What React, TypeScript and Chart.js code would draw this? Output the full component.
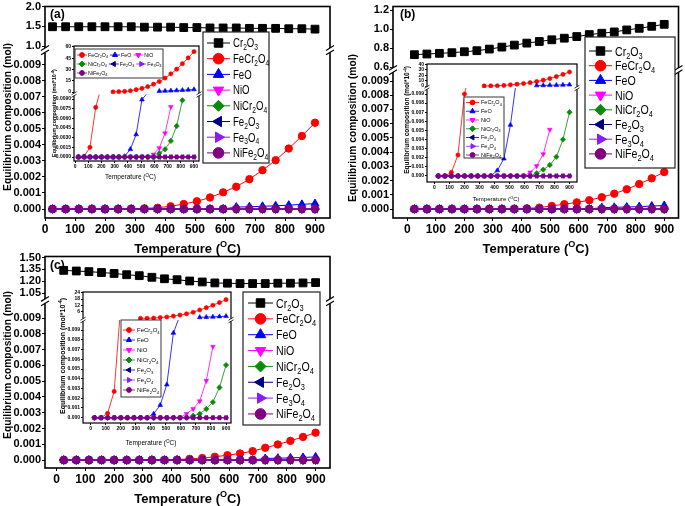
import React, { useEffect, useRef } from "react";
import { Chart, registerables, PointElement } from "chart.js";

Chart.register(...registerables);

const FONT = "'Liberation Sans', Arial, Helvetica, sans-serif";

// ---------------- data ----------------
const temperatures = [25, 68.75, 112.5, 156.25, 200, 243.75, 287.5, 331.25, 375, 418.75, 462.5, 506.25, 550, 593.75, 637.5, 681.25, 725, 768.75, 812.5, 856.25, 900];

const seriesNames = ["Cr_{2}O_{3}", "FeCr_{2}O_{4}", "FeO", "NiO", "NiCr_{2}O_{4}", "Fe_{2}O_{3}", "Fe_{3}O_{4}", "NiFe_{2}O_{4}"];
const seriesLabels = ["Cr₂O₃", "FeCr₂O₄", "FeO", "NiO", "NiCr₂O₄", "Fe₂O₃", "Fe₃O₄", "NiFe₂O₄"];
const seriesColors = ["#000000", "#ff0000", "#0000ff", "#ff00ff", "#0a8a0a", "#000080", "#8c1aff", "#800080"];
const seriesMarkers = [
  { ps: "rect", rot: 0 }, { ps: "circle", rot: 0 }, { ps: "triangle", rot: 0 }, { ps: "triangle", rot: 180 },
  { ps: "rectRot", rot: 0 }, { ps: "triangle", rot: 270 }, { ps: "triangle", rot: 90 }, { ps: "circle", rot: 0 },
];

// series that stay at zero over the whole range
const zeroSeries = [0, 0, 0, 0, 0, 0, 0, 0, 0, 0, 0, 0, 0, 0, 0, 0, 0, 0, 0, 0, 0];

// panel (a) main
const aCr2O3 = [1.49, 1.49, 1.49, 1.49, 1.49, 1.49, 1.49, 1.48, 1.48, 1.48, 1.47, 1.47, 1.46, 1.46, 1.46, 1.45, 1.45, 1.45, 1.44, 1.44, 1.43];
const aFeCr2O4 = [0, 0, 0, 0, 0, 0, 0.00002, 0.00004, 0.00008, 0.00017, 0.00031, 0.00048, 0.00072, 0.00104, 0.00139, 0.00186, 0.00242, 0.00304, 0.00377, 0.00455, 0.00538];
const aFeO = [0, 0, 0, 0, 0, 0, 0, 0, 0, 0, 0, 0, 0, 0, 0.00012, 0.00014, 0.00017, 0.0002, 0.00024, 0.00029, 0.00034];
// panel (b) main
const bCr2O3 = [0.732, 0.739, 0.746, 0.753, 0.763, 0.774, 0.791, 0.812, 0.833, 0.854, 0.871, 0.889, 0.906, 0.923, 0.944, 0.958, 0.972, 0.993, 1.01, 1.031, 1.052];
const bFeCr2O4 = [0, 0, 0, 0, 0, 0, 0, 0.00001, 0.00002, 0.00005, 0.0001, 0.00022, 0.00034, 0.00047, 0.00062, 0.00083, 0.00108, 0.00139, 0.00176, 0.00216, 0.0026];
const bFeO = [0, 0, 0, 0, 0, 0, 0, 0, 0, 0, 0, 0, 0, 0, 0, 0.0001, 0.00012, 0.00014, 0.00017, 0.00021, 0.00025];
// panel (c) main
const cCr2O3 = [1.338, 1.33, 1.322, 1.311, 1.299, 1.283, 1.271, 1.251, 1.232, 1.22, 1.204, 1.192, 1.18, 1.176, 1.172, 1.172, 1.172, 1.176, 1.176, 1.18, 1.184];
const cFeCr2O4 = [0, 0, 0, 0, 0, 0, 0, 0.000005, 0.00001, 0.00003, 0.00008, 0.00013, 0.00021, 0.00031, 0.00042, 0.00057, 0.00078, 0.00099, 0.00122, 0.00147, 0.00174];
const cFeO = [0, 0, 0, 0, 0, 0, 0, 0, 0, 0, 0, 0, 0, 0, 0, 0, 0.0001, 0.00012, 0.00014, 0.00017, 0.0002];

// inset (a) — units mol*10^-4
const iaFeCr2O4 = [0, 0.0001, 0.0015, 0.0077, 0.011, null, null, null, null, null, null, null, null, null, null, null, null, null, null, null, null];
const iaFeO = [0, 0, 0, 0, 0, 0, 0, 0, 0.0001, 0.0012, 0.0035, 0.0089, 0.01, null, null, null, null, null, null, null, null];
const iaNiO = [0, 0, 0, 0, 0, 0, 0, 0, 0, 0, 0, 0, 0, 0.0004, 0.0014, 0.0037, 0.0078, null, null, null, null];
const iaNiCr2O4 = [0, 0, 0, 0, 0, 0, 0, 0, 0, 0, 0, 0, 0, 0, 0.0006, 0.0012, 0.0025, 0.0048, 0.0088, null, null];
const iaFeCr2O4Hi = [null, null, null, null, null, null, 0.2, 0.4, 0.8, 1.7, 3.1, 4.8, 7.2, 10.4, 13.9, 18.6, 24.2, 30.4, 37.7, 45.5, 53.8];
const iaFeOHi = [null, null, null, null, null, null, null, null, null, null, null, null, null, null, 1.2, 1.4, 1.7, 2.0, 2.4, 2.9, 3.4];
// inset (b)
const ibFeCr2O4 = [0, 0, 0.0004, 0.0023, 0.009, 0.012, null, null, null, null, null, null, null, null, null, null, null, null, null, null, null];
const ibFeO = [0, 0, 0, 0, 0, 0, 0, 0, 0, 0.0006, 0.0019, 0.0056, 0.011, null, null, null, null, null, null, null, null];
const ibNiO = [0, 0, 0, 0, 0, 0, 0, 0, 0, 0, 0, 0, 0, 0, 0.0004, 0.0011, 0.0024, 0.0051, null, null, null];
const ibNiCr2O4 = [0, 0, 0, 0, 0, 0, 0, 0, 0, 0, 0, 0, 0, 0, 0, 0.0003, 0.0007, 0.0012, 0.0021, 0.004, 0.007];
const ibFeCr2O4Hi = [null, null, null, null, null, null, null, 0.1, 0.2, 0.5, 1.0, 2.2, 3.4, 4.7, 6.2, 8.3, 10.8, 13.9, 17.6, 21.6, 26.0];
const ibFeOHi = [null, null, null, null, null, null, null, null, null, null, null, null, null, null, null, 1.0, 1.2, 1.4, 1.7, 2.1, 2.5];
// inset (c)
const icFeCr2O4 = [0, 0, 0.00045, 0.0027, 0.0115, null, null, null, null, null, null, null, null, null, null, null, null, null, null, null, null];
const icFeO = [0, 0, 0, 0, 0, 0, 0, 0, 0, 0.0004, 0.0013, 0.0034, 0.0087, 0.0105, null, null, null, null, null, null, null];
const icNiO = [0, 0, 0, 0, 0, 0, 0, 0, 0, 0, 0, 0, 0, 0, 0.0004, 0.0009, 0.0017, 0.0038, 0.0073, null, null];
const icNiCr2O4 = [0, 0, 0, 0, 0, 0, 0, 0, 0, 0, 0, 0, 0, 0, 0, 0.0002, 0.0004, 0.0009, 0.0016, 0.0031, 0.0054];
const icFeCr2O4Hi = [null, null, null, null, null, null, null, 0.05, 0.1, 0.3, 0.8, 1.3, 2.1, 3.1, 4.2, 5.7, 7.8, 9.9, 12.2, 14.7, 17.4];
const icFeOHi = [null, null, null, null, null, null, null, null, null, null, null, null, null, null, null, null, 1.0, 1.2, 1.4, 1.7, 2.0];

// tick values and labels
const xTicks = [0, 100, 200, 300, 400, 500, 600, 700, 800, 900];
const xTickLabels = ["0", "100", "200", "300", "400", "500", "600", "700", "800", "900"];
const loTicks = [0, 0.001, 0.002, 0.003, 0.004, 0.005, 0.006, 0.007, 0.008, 0.009];
const loTickLabels = ["0.000", "0.001", "0.002", "0.003", "0.004", "0.005", "0.006", "0.007", "0.008", "0.009"];
const aHiTicks = [1.0, 1.5, 2.0];
const aHiLabels = ["1.0", "1.5", "2.0"];
const bHiTicks = [0.6, 0.8, 1.0, 1.2];
const bHiLabels = ["0.6", "0.8", "1.0", "1.2"];
const cHiTicks = [1.05, 1.2, 1.35, 1.5];
const cHiLabels = ["1.05", "1.20", "1.35", "1.50"];
const iaLoTicks = [0, 0.0015, 0.003, 0.0045, 0.006, 0.0075, 0.009];
const iaLoLabels = ["0.0000", "0.0015", "0.0030", "0.0045", "0.0060", "0.0075", "0.0090"];
const iaHiTicks = [0, 15, 30, 45, 60];
const iaHiLabels = ["0", "15", "30", "45", "60"];
const ibHiTicks = [0, 10, 20, 30, 40];
const ibHiLabels = ["0", "10", "20", "30", "40"];
const icHiTicks = [6, 12, 18, 24];
const icHiLabels = ["6", "12", "18", "24"];

const mainYTitle = "Equilibrium composition (mol)";
const insetYTitle = "Equilibrium composition (mol*10^{-4})";
const xTitleText = "Temperature (^{O}C)";

// ---------------- drawing helpers ----------------
function drawRich(ctx: CanvasRenderingContext2D, str: string, x: number, y: number, o: any) {
  const parts: { t: string; m: number }[] = [];
  const re = /(_\{[^}]*\}|\^\{[^}]*\})/g;
  let last = 0;
  let mt: RegExpExecArray | null;
  while ((mt = re.exec(str))) {
    if (mt.index > last) parts.push({ t: str.slice(last, mt.index), m: 0 });
    const tok = mt[0];
    parts.push({ t: tok.slice(2, -1), m: tok[0] === "_" ? 1 : 2 });
    last = mt.index + tok.length;
  }
  if (last < str.length) parts.push({ t: str.slice(last), m: 0 });
  const weight = o.weight || "normal";
  const fontFor = (m: number) => `${weight} ${m ? o.size * 0.7 : o.size}px ${FONT}`;
  let total = 0;
  const widths = parts.map((p) => {
    ctx.font = fontFor(p.m);
    const w = ctx.measureText(p.t).width;
    total += w;
    return w;
  });
  ctx.save();
  ctx.translate(x, y);
  if (o.rot) ctx.rotate(o.rot);
  ctx.scale(o.sx || 1, 1);
  let cx = o.align === "center" ? -total / 2 : o.align === "right" ? -total : 0;
  const base = o.size * 0.36;
  ctx.fillStyle = o.color || "#000";
  ctx.textBaseline = "alphabetic";
  ctx.textAlign = "left";
  parts.forEach((p, i) => {
    ctx.font = fontFor(p.m);
    const dy = p.m === 1 ? o.size * 0.24 : p.m === 2 ? -o.size * 0.4 : 0;
    ctx.fillText(p.t, cx, base + dy);
    cx += widths[i];
  });
  ctx.restore();
}

const BIG_AREA = { left: -1e5, top: -1e5, right: 1e5, bottom: 1e5 };

function drawMarker(ctx: CanvasRenderingContext2D, k: number, x: number, y: number, rmap: any) {
  const st = seriesMarkers[k];
  const pe: any = new (PointElement as any)({
    x,
    y,
    skip: false,
    options: {
      pointStyle: st.ps,
      rotation: st.rot,
      radius: rmap[st.ps],
      borderWidth: 1,
      borderColor: seriesColors[k],
      backgroundColor: seriesColors[k],
    },
  });
  pe.draw(ctx, BIG_AREA);
}

function drawLegend(ctx: CanvasRenderingContext2D, L: any, ox: number, oy: number) {
  const b = L.box;
  ctx.save();
  ctx.fillStyle = "#fff";
  ctx.fillRect(b.l - ox, b.t - oy, b.r - b.l, b.b - b.t);
  ctx.strokeStyle = "#222";
  ctx.lineWidth = L.borderW;
  ctx.strokeRect(b.l - ox, b.t - oy, b.r - b.l, b.b - b.t);
  const item = (k: number, x0: number, x1: number, tx: number, y: number) => {
    ctx.strokeStyle = seriesColors[k];
    ctx.lineWidth = L.lineW;
    ctx.beginPath();
    ctx.moveTo(x0 - ox, y - oy);
    ctx.lineTo(x1 - ox, y - oy);
    ctx.stroke();
    drawMarker(ctx, k, (x0 + x1) / 2 - ox, y - oy, L.mR);
    drawRich(ctx, seriesNames[k], tx - ox, y - oy, { size: L.size, sx: L.sx, align: "left" });
  };
  if (L.kind === "col") {
    L.items.forEach((k: number, i: number) => {
      const y = L.y0 + i * L.dy;
      item(k, L.x0, L.x1, L.tx, y);
    });
  } else {
    L.rows.forEach((row: number[], ri: number) => {
      const y = L.y0 + ri * L.dy;
      let x = L.x0;
      row.forEach((k) => {
        item(k, x, x + L.lineLen, x + L.lineLen + L.textGap, y);
        ctx.save();
        ctx.font = `normal ${L.size}px ${FONT}`;
        const plain = seriesNames[k].replace(/_\{([^}]*)\}/g, "$1");
        const subs = (seriesNames[k].match(/_\{/g) || []).length;
        const w = ctx.measureText(plain).width - subs * ctx.measureText("0").width * 0.3;
        ctx.restore();
        x += L.lineLen + L.textGap + w * (L.sx || 1) + L.itemGap;
      });
    });
  }
  ctx.restore();
}

function decorPlugin(s: any) {
  const ox = s.canvas.x;
  const oy = s.canvas.y;
  return {
    id: "decor",
    beforeDraw(chart: any) {
      if (s.fill) {
        const a = chart.chartArea;
        chart.ctx.save();
        chart.ctx.fillStyle = "#fff";
        chart.ctx.fillRect(a.left, a.top, a.right - a.left, a.bottom - a.top);
        chart.ctx.restore();
      }
    },
    beforeDatasetDraw(chart: any, args: any) {
      const ctx = chart.ctx;
      const a = chart.chartArea;
      const ys = chart.scales[args.meta.yAxisID];
      ctx.save();
      ctx.beginPath();
      if (args.meta.yAxisID === "yHigh") {
        ctx.rect(a.left - 12, a.top - 12, a.right - a.left + 24, ys.bottom - a.top + 12);
      } else {
        ctx.rect(a.left - 12, ys.top, a.right - a.left + 24, a.bottom - ys.top + 12);
      }
      ctx.clip();
    },
    afterDatasetDraw(chart: any) {
      chart.ctx.restore();
    },
    afterDraw(chart: any) {
      const ctx: CanvasRenderingContext2D = chart.ctx;
      const a = chart.chartArea;
      ctx.save();
      ctx.strokeStyle = "#000";
      ctx.lineWidth = s.frameW;
      ctx.strokeRect(a.left, a.top, a.right - a.left, a.bottom - a.top);
      const yb = chart.scales.yLow.top;
      const g = s.brk.g;
      const m = s.brk.m;
      for (const x of [a.left, a.right]) {
        ctx.fillStyle = "#fff";
        ctx.fillRect(x - s.frameW - 0.5, yb - g, 2 * s.frameW + 1, 2 * g);
        ctx.strokeStyle = "#000";
        ctx.lineWidth = s.brk.w;
        for (const dy of [-g, g]) {
          ctx.beginPath();
          ctx.moveTo(x - m, yb + dy + m * 0.6);
          ctx.lineTo(x + m, yb + dy - m * 0.6);
          ctx.stroke();
        }
      }
      ctx.restore();
      const yt = s.yTitle;
      drawRich(ctx, yt.text, yt.x - ox, yt.y - oy, { size: yt.size, weight: yt.weight, sx: yt.sx, align: "center", rot: -Math.PI / 2 });
      const xt = s.xTitle;
      drawRich(ctx, xt.text, (a.left + a.right) / 2 + (xt.dx || 0), xt.y - oy, { size: xt.size, weight: xt.weight, sx: xt.sx, align: "center" });
      if (s.label) drawRich(ctx, s.label.text, s.label.x - ox, s.label.y - oy, { size: s.label.size, weight: "bold", align: "left" });
      if (s.legend) drawLegend(ctx, s.legend, ox, oy);
    },
  };
}

function buildConfig(s: any) {
  const yW = s.area.l - s.canvas.x;
  const padT = s.area.t - s.canvas.y;
  const padR = s.canvas.x + s.canvas.w - s.area.r;
  const xH = s.canvas.y + s.canvas.h - s.area.b;
  const zeroPad = (sc: any) => {
    sc.paddingTop = 0;
    sc.paddingBottom = 0;
    sc.paddingLeft = 0;
    sc.paddingRight = 0;
  };
  const axis = (vals: number[], labels: string[], fontSize: number) => ({
    afterBuildTicks: (sc: any) => {
      sc.ticks = vals.map((v) => ({ value: v }));
    },
    ticks: {
      font: { family: FONT, size: fontSize, weight: "bold" },
      color: "#000",
      padding: s.tickPad,
      autoSkip: false,
      maxRotation: 0,
      minRotation: 0,
      callback: (v: number) => {
        const i = vals.indexOf(v);
        return i >= 0 ? labels[i] : "";
      },
    },
    grid: { display: true, drawOnChartArea: false, drawTicks: true, tickLength: s.tickLen, color: "#000", lineWidth: 1 },
    border: { display: false },
  });
  const datasets = s.series.map((se: any) => {
    const st = seriesMarkers[se.k];
    const col = seriesColors[se.k];
    return {
      label: seriesLabels[se.k],
      data: temperatures.map((t, i) => ({ x: t, y: se.v[i] })),
      yAxisID: se.hi ? "yHigh" : "yLow",
      borderColor: col,
      backgroundColor: col,
      borderWidth: s.lineW,
      pointStyle: st.ps,
      pointRotation: st.rot,
      pointRadius: s.markerR[st.ps],
      pointBorderWidth: s.markerBorder,
      pointBackgroundColor: col,
      pointBorderColor: col,
      order: 10 - se.k,
      clip: false,
      spanGaps: false,
      tension: 0,
      fill: false,
    };
  });
  return {
    type: "line",
    data: { datasets },
    options: {
      responsive: false,
      maintainAspectRatio: false,
      animation: false,
      devicePixelRatio: 1,
      events: [],
      layout: { padding: { left: 0, top: padT, right: padR, bottom: 0 } },
      plugins: { legend: { display: false }, tooltip: { enabled: false }, title: { display: false } },
      scales: {
        x: {
          type: "linear",
          position: "bottom",
          min: s.xRange[0],
          max: s.xRange[1],
          afterFit: (sc: any) => {
            sc.height = xH;
            zeroPad(sc);
          },
          ...axis(xTicks, xTickLabels, s.xTickFont),
        },
        yLow: {
          type: "linear",
          position: "left",
          stack: "ystack",
          stackWeight: s.area.b - s.breakY,
          min: s.lo.range[0],
          max: s.lo.range[1],
          afterFit: (sc: any) => {
            sc.width = yW;
            zeroPad(sc);
          },
          ...axis(s.lo.ticks, s.lo.labels, s.yTickFont),
        },
        yHigh: {
          type: "linear",
          position: "left",
          stack: "ystack",
          stackWeight: s.breakY - s.area.t,
          min: s.hi.range[0],
          max: s.hi.range[1],
          afterFit: (sc: any) => {
            sc.width = yW;
            zeroPad(sc);
          },
          ...axis(s.hi.ticks, s.hi.labels, s.yTickFont),
        },
      },
    },
    plugins: [decorPlugin(s)],
  };
}

// ---------------- panel specifications ----------------
const mainMarkers = { rect: 5.5, circle: 3.7, triangle: 4.5, rectRot: 4.5 };
const mainLegendMarkers = { rect: 6, circle: 5.3, triangle: 6, rectRot: 5.5 };
const insetMarkers = { rect: 2.5, circle: 2.1, triangle: 2.7, rectRot: 2.7 };
const insetLegendMarkers = { rect: 2.5, circle: 2.4, triangle: 2.9, rectRot: 2.9 };

const mainSeries = (cr: number[], fecr: number[], feo: number[]) => [
  { k: 0, v: cr, hi: true },
  { k: 1, v: fecr },
  { k: 2, v: feo },
  { k: 3, v: zeroSeries },
  { k: 4, v: zeroSeries },
  { k: 5, v: zeroSeries },
  { k: 6, v: zeroSeries },
  { k: 7, v: zeroSeries },
];
const insetSeries = (fecr: any[], feo: any[], nio: any[], nicr: any[], fecrHi: any[], feoHi: any[]) => [
  { k: 1, v: fecr },
  { k: 2, v: feo },
  { k: 3, v: nio },
  { k: 4, v: nicr },
  { k: 5, v: zeroSeries },
  { k: 6, v: zeroSeries },
  { k: 7, v: zeroSeries },
  { k: 1, v: fecrHi, hi: true },
  { k: 2, v: feoHi, hi: true },
];

const mainCommon = {
  xTickFont: 12,
  yTickFont: 11,
  tickLen: 3,
  tickPad: 1,
  markerR: mainMarkers,
  markerBorder: 1,
  lineW: 1,
  frameW: 1.6,
  brk: { g: 2.2, m: 4, w: 1.2 },
  fill: false,
};
const insetCommon = {
  xTickFont: 5,
  yTickFont: 5,
  tickLen: 2,
  tickPad: 1,
  markerR: insetMarkers,
  markerBorder: 0.6,
  lineW: 0.8,
  frameW: 1.2,
  brk: { g: 1.3, m: 2.5, w: 0.8 },
  fill: true,
};

const specA = {
  ...mainCommon,
  canvas: { x: 0, y: 0, w: 340, h: 256 },
  area: { l: 45, t: 5, r: 330, b: 218 },
  breakY: 49,
  xRange: [0, 950],
  hi: { range: [0.9, 2.0], ticks: aHiTicks, labels: aHiLabels },
  lo: { range: [-0.00056, 0.0099], ticks: loTicks, labels: loTickLabels },
  series: mainSeries(aCr2O3, aFeCr2O4, aFeO),
  yTitle: { text: mainYTitle, x: 7, y: 117, size: 11, weight: "bold", sx: 0.93 },
  xTitle: { text: xTitleText, y: 248, size: 13, weight: "bold" },
  label: { text: "(a)", x: 50, y: 14, size: 12 },
  legend: { kind: "col", box: { l: 203, t: 32, r: 269, b: 163 }, items: [0, 1, 2, 3, 4, 5, 6, 7], y0: 43, dy: 15.7, x0: 207, x1: 230, tx: 233, size: 12, sx: 0.8, mR: mainLegendMarkers, borderW: 1.2, lineW: 1 },
};
const specB = {
  ...mainCommon,
  canvas: { x: 340, y: 0, w: 345, h: 256 },
  area: { l: 393, t: 5, r: 681, b: 218 },
  breakY: 69,
  xRange: [-50, 950],
  hi: { range: [0.57, 1.24], ticks: bHiTicks, labels: bHiLabels },
  lo: { range: [-0.00063, 0.00977], ticks: loTicks, labels: loTickLabels },
  series: mainSeries(bCr2O3, bFeCr2O4, bFeO),
  yTitle: { text: mainYTitle, x: 352, y: 128, size: 11, weight: "bold", sx: 0.93 },
  xTitle: { text: xTitleText, y: 248, size: 13, weight: "bold" },
  label: { text: "(b)", x: 400, y: 14, size: 12 },
  legend: { kind: "col", box: { l: 585, t: 37, r: 675, b: 168 }, items: [0, 1, 2, 3, 4, 5, 6, 7], y0: 51, dy: 14.7, x0: 589, x1: 612, tx: 615, size: 12.5, sx: 0.85, mR: mainLegendMarkers, borderW: 1.2, lineW: 1 },
};
const specC = {
  ...mainCommon,
  canvas: { x: 0, y: 250, w: 340, h: 256 },
  area: { l: 45, t: 255, r: 330, b: 468 },
  breakY: 300,
  xRange: [-40, 950],
  hi: { range: [0.95, 1.5125], ticks: cHiTicks, labels: cHiLabels },
  lo: { range: [-0.0005, 0.01007], ticks: loTicks, labels: loTickLabels },
  series: mainSeries(cCr2O3, cFeCr2O4, cFeO),
  yTitle: { text: mainYTitle, x: 7, y: 365, size: 11, weight: "bold", sx: 0.93 },
  xTitle: { text: xTitleText, y: 498, size: 13, weight: "bold" },
  label: { text: "(c)", x: 50, y: 265, size: 12 },
  legend: { kind: "col", box: { l: 243, t: 292, r: 320, b: 425 }, items: [0, 1, 2, 3, 4, 5, 6, 7], y0: 303, dy: 15.85, x0: 248, x1: 273, tx: 276, size: 12.5, sx: 0.85, mR: mainLegendMarkers, borderW: 1.2, lineW: 1 },
};

const specIA = {
  ...insetCommon,
  canvas: { x: 48, y: 41, w: 156, h: 144 },
  area: { l: 74, t: 46, r: 199, b: 161 },
  breakY: 94.5,
  xRange: [-8, 938],
  hi: { range: [-3.3, 61.3], ticks: iaHiTicks, labels: iaHiLabels },
  lo: { range: [-0.00062, 0.0097], ticks: iaLoTicks, labels: iaLoLabels },
  series: insetSeries(iaFeCr2O4, iaFeO, iaNiO, iaNiCr2O4, iaFeCr2O4Hi, iaFeOHi),
  yTitle: { text: insetYTitle, x: 54, y: 113, size: 5.3, weight: "bold", sx: 1 },
  xTitle: { text: xTitleText, y: 177, size: 6.5, weight: "normal", dx: -6 },
  legend: { kind: "flow", box: { l: 75, t: 49, r: 163, b: 78 }, rows: [[1, 2, 3], [4, 5, 6], [7]], y0: 55, dy: 9, x0: 77, lineLen: 10, textGap: 1, itemGap: 2, size: 5.3, sx: 1, mR: insetLegendMarkers, borderW: 0.9, lineW: 0.8 },
};
const specIB = {
  ...insetCommon,
  canvas: { x: 398, y: 59, w: 184, h: 148 },
  area: { l: 427, t: 64, r: 577, b: 182 },
  breakY: 88,
  xRange: [-50, 950],
  hi: { range: [-3.7, 40.9], ticks: ibHiTicks, labels: ibHiLabels },
  lo: { range: [-0.00066, 0.00966], ticks: loTicks, labels: loTickLabels },
  series: insetSeries(ibFeCr2O4, ibFeO, ibNiO, ibNiCr2O4, ibFeCr2O4Hi, ibFeOHi),
  yTitle: { text: insetYTitle, x: 407, y: 120, size: 6.5, weight: "bold", sx: 1 },
  xTitle: { text: xTitleText, y: 199, size: 6, weight: "normal", dx: -6 },
  legend: { kind: "col", box: { l: 464, t: 97, r: 504, b: 158 }, items: [1, 2, 3, 4, 5, 6, 7], y0: 102.5, dy: 8.75, x0: 466, x1: 479, tx: 481, size: 5.5, sx: 1, mR: insetLegendMarkers, borderW: 0.9, lineW: 0.8 },
};
const specIC = {
  ...insetCommon,
  canvas: { x: 55, y: 287, w: 181, h: 163 },
  area: { l: 83, t: 292, r: 231, b: 423 },
  breakY: 320,
  xRange: [-51, 933],
  hi: { range: [-1.5, 24.5], ticks: icHiTicks, labels: icHiLabels },
  lo: { range: [-0.00054, 0.01003], ticks: loTicks, labels: loTickLabels },
  series: insetSeries(icFeCr2O4, icFeO, icNiO, icNiCr2O4, icFeCr2O4Hi, icFeOHi),
  yTitle: { text: insetYTitle, x: 62, y: 356, size: 7, weight: "bold", sx: 1 },
  xTitle: { text: xTitleText, y: 443, size: 6.5, weight: "normal", dx: -6 },
  legend: { kind: "col", box: { l: 121, t: 320, r: 161, b: 397 }, items: [1, 2, 3, 4, 5, 6, 7], y0: 330, dy: 10, x0: 123, x1: 135, tx: 137, size: 6, sx: 1, mR: insetLegendMarkers, borderW: 0.9, lineW: 0.8 },
};

const specs = [specA, specB, specC, specIA, specIB, specIC];

function ChartCanvas({ spec }: { spec: any }) {
  const ref = useRef<HTMLCanvasElement>(null);
  useEffect(() => {
    const chart = new Chart(ref.current as HTMLCanvasElement, buildConfig(spec) as any);
    return () => chart.destroy();
  }, [spec]);
  return (
    <canvas
      ref={ref}
      width={spec.canvas.w}
      height={spec.canvas.h}
      style={{ position: "absolute", left: spec.canvas.x, top: spec.canvas.y, width: spec.canvas.w, height: spec.canvas.h }}
    />
  );
}

export default function App() {
  return (
    <div style={{ position: "absolute", left: 0, top: 0, width: 685, height: 506, background: "#fff", overflow: "hidden" }}>
      {specs.map((s, i) => (
        <ChartCanvas key={i} spec={s} />
      ))}
    </div>
  );
}
